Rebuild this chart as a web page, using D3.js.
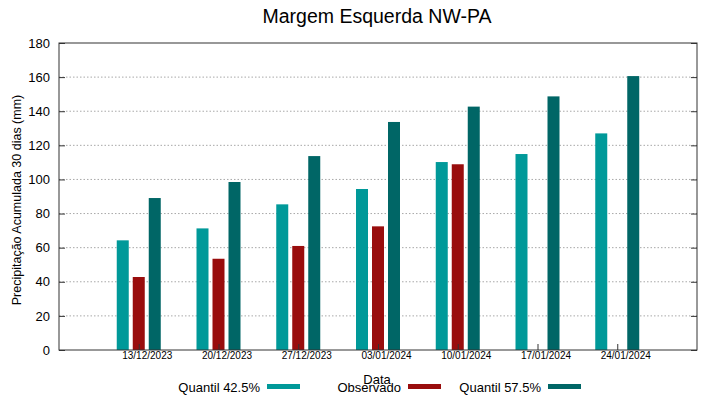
<!DOCTYPE html>
<html>
<head>
<meta charset="utf-8">
<script src="https://cdn.jsdelivr.net/npm/d3@7"></script>
<style>
  body { margin: 0; background: #fff; }
  svg { font-family: "Liberation Sans", Arial, sans-serif; }
</style>
</head>
<body>
<div id="chart"></div>
<script>
// data
const dates = ["13/12/2023", "20/12/2023", "27/12/2023", "03/01/2024", "10/01/2024", "17/01/2024", "24/01/2024"];
const q425 = [64.3, 71.3, 85.4, 94.4, 110.2, 114.9, 127.0];
const observado = [42.8, 53.5, 61.0, 72.5, 108.9, null, null];
const q575 = [89.1, 98.5, 113.7, 133.7, 142.7, 148.7, 160.6];
const yTicks = [0, 20, 40, 60, 80, 100, 120, 140, 160, 180];

const series = [
  { name: "Quantil 42.5%", values: q425, color: "#009999", off: -16 },
  { name: "Observado", values: observado, color: "#990d0d", off: 0 },
  { name: "Quantil 57.5%", values: q575, color: "#006666", off: 16 }
];

const W = 719, H = 399;
const margin = { top: 43, right: 22, bottom: 49, left: 59 };
const width = W - margin.left - margin.right;
const height = H - margin.top - margin.bottom;

const parse = d3.timeParse("%d/%m/%Y");

const svg = d3.select("#chart").append("svg")
  .attr("width", W)
  .attr("height", H);

const g = svg.append("g")
  .attr("transform", "translate(" + margin.left + "," + margin.top + ")");

const x = d3.scaleTime()
  .domain([parse("06/12/2023"), parse("31/01/2024")])
  .range([0, width]);

const y = d3.scaleLinear()
  .domain([0, 180])
  .range([height, 0]);

// dotted grid
g.append("g")
  .selectAll("line")
  .data(yTicks.filter(t => t > 0 && t < 180))
  .enter()
  .append("line")
  .attr("x1", 0)
  .attr("x2", width)
  .attr("y1", d => y(d))
  .attr("y2", d => y(d))
  .attr("stroke", "#a8a8a8")
  .attr("stroke-width", 1)
  .attr("stroke-dasharray", "1.5,2");

// bars
const barW = 12;
series.forEach(s => {
  g.selectAll(null)
    .data(dates.map((d, i) => ({ date: parse(d), v: s.values[i] })).filter(d => d.v != null))
    .enter()
    .append("rect")
    .attr("x", d => x(d.date) + s.off - barW / 2)
    .attr("y", d => y(d.v))
    .attr("width", barW)
    .attr("height", d => height - y(d.v))
    .attr("fill", s.color);
});

// y axis left, plus mirrored ticks on the right
const yAxis = g.append("g")
  .call(d3.axisLeft(y).tickValues(yTicks).tickSize(-6).tickPadding(9));
yAxis.select(".domain").remove();
yAxis.selectAll("text").style("font-size", "13px").attr("fill", "#000");
yAxis.selectAll("line").attr("stroke", "#333");

const yRight = g.append("g")
  .attr("transform", "translate(" + width + ",0)")
  .call(d3.axisRight(y).tickValues(yTicks).tickSize(-6).tickFormat(""));
yRight.select(".domain").remove();
yRight.selectAll("line").attr("stroke", "#333");

// x axis
const xAxis = g.append("g")
  .attr("transform", "translate(0," + height + ")")
  .call(d3.axisBottom(x).tickValues(dates.map(parse)).tickSize(-6).tickFormat(d3.timeFormat("%d/%m/%Y")));
xAxis.select(".domain").remove();
xAxis.selectAll("line").attr("stroke", "#333");
xAxis.selectAll("text")
  .style("font-size", "10px")
  .attr("fill", "#000")
  .attr("dx", 8)
  .attr("dy", 6);

// frame
g.append("rect")
  .attr("width", width)
  .attr("height", height)
  .attr("fill", "none")
  .attr("stroke", "#333")
  .attr("stroke-width", 1);

// title
svg.append("text")
  .attr("x", 377)
  .attr("y", 23)
  .attr("text-anchor", "middle")
  .style("font-size", "19.5px")
  .text("Margem Esquerda NW-PA");

// axis labels
svg.append("text")
  .attr("transform", "translate(21,200) rotate(-90)")
  .attr("text-anchor", "middle")
  .style("font-size", "12.5px")
  .text("Precipitação Acumulada 30 dias (mm)");

svg.append("text")
  .attr("x", 377)
  .attr("y", 384)
  .attr("text-anchor", "middle")
  .style("font-size", "13px")
  .text("Data");

// legend
const legendX = [260, 401, 541];
series.forEach((s, i) => {
  svg.append("text")
    .attr("x", legendX[i])
    .attr("y", 392)
    .attr("text-anchor", "end")
    .style("font-size", "13px")
    .text(s.name);
  svg.append("rect")
    .attr("x", legendX[i] + 7)
    .attr("y", 384)
    .attr("width", 33)
    .attr("height", 5)
    .attr("fill", s.color);
});
</script>
</body>
</html>
